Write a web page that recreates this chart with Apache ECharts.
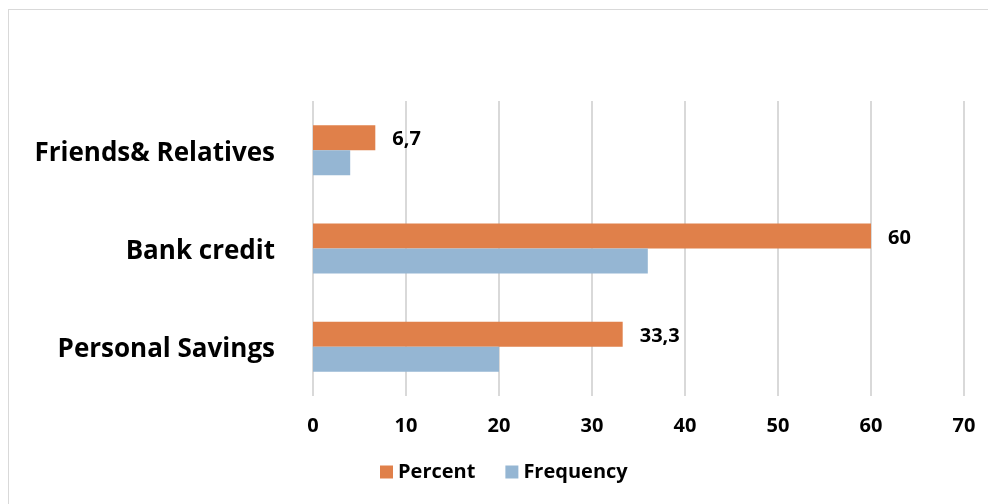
<!DOCTYPE html>
<html>
<head>
<meta charset="utf-8">
<script src="https://cdn.jsdelivr.net/npm/echarts@6/dist/echarts.min.js"></script>
<style>
  html, body { margin: 0; padding: 0; background: #fff; overflow: hidden; }
  #frame { position: absolute; left: 8px; top: 9px; width: 1100px; height: 600px; border: 1px solid #d9d9d9; }
  #main { position: absolute; left: 0; top: 0; width: 988px; height: 504px; }
</style>
</head>
<body>
<div id="frame"></div>
<div id="main"></div>
<script>
// 类别（从下到上）
var categories = ['Personal Savings', 'Bank credit', 'Friends& Relatives'];
var percentValues = [33.3, 60, 6.7];
var frequencyValues = [20, 36, 4];
var xTicks = [0, 10, 20, 30, 40, 50, 60, 70];

var FONT = 'Open Sans';

var chart = echarts.init(document.getElementById('main'));
var option = {
    animation: false,
    textStyle: { fontFamily: FONT },
    grid: {
        top: 101,
        bottom: 108,
        left: 313,
        right: 24,
        containLabel: false
    },
    legend: {
        data: ['Percent', 'Frequency'],
        bottom: 17,
        left: 375,
        itemWidth: 13,
        itemHeight: 13,
        itemGap: 30,
        icon: 'rect',
        textStyle: { fontFamily: FONT, fontWeight: 'bold', fontSize: 20, color: '#000' }
    },
    xAxis: {
        type: 'value',
        min: xTicks[0],
        max: xTicks[xTicks.length - 1],
        interval: 10,
        axisLine: { show: false },
        axisTick: { show: false },
        axisLabel: { fontFamily: FONT, fontWeight: 'bold', fontSize: 20, color: '#000', margin: 20 },
        splitLine: { show: true, lineStyle: { color: '#d9d9d9', width: 2 } }
    },
    yAxis: {
        type: 'category',
        data: categories,
        axisLine: { show: false },
        axisTick: { show: false },
        axisLabel: {
            margin: 38,
            formatter: function (v) { return '{c|' + v + '}'; },
            rich: {
                c: { fontFamily: FONT, fontWeight: 'bold', fontSize: 26, color: '#000', padding: [6, 0, 0, 0] }
            }
        }
    },
    series: [
        {
            name: 'Percent',
            type: 'bar',
            data: percentValues,
            barWidth: 25,
            barGap: '0%',
            itemStyle: { color: '#e0804a' },
            label: {
                show: true,
                position: 'right',
                distance: 17,
                offset: [0, 2],
                fontFamily: FONT,
                fontWeight: 'bold',
                fontSize: 20,
                color: '#000',
                formatter: function (p) { return String(p.value).replace('.', ','); }
            }
        },
        {
            name: 'Frequency',
            type: 'bar',
            data: frequencyValues,
            barWidth: 25,
            barGap: '0%',
            itemStyle: { color: '#95b6d3' }
        }
    ]
};
chart.setOption(option);
</script>
</body>
</html>
